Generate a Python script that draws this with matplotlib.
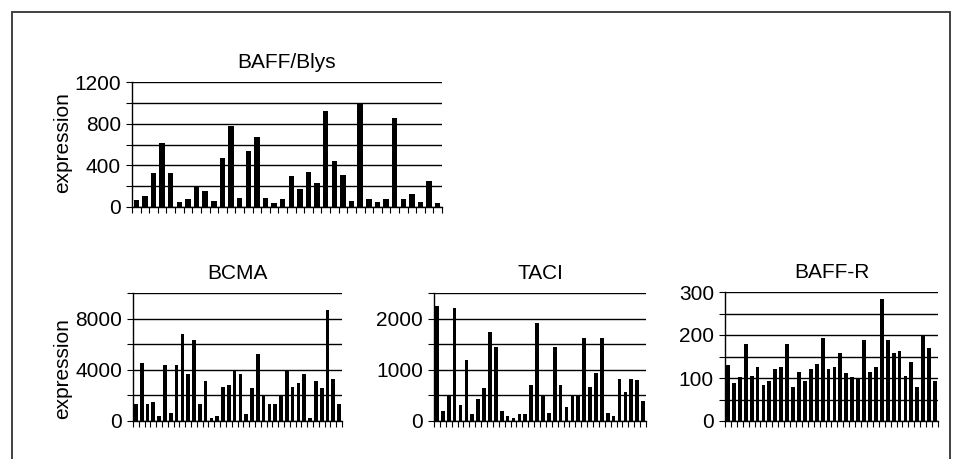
import matplotlib
matplotlib.use("Agg")
import matplotlib.pyplot as plt
from matplotlib.patches import Rectangle
import numpy as np

plt.rcParams['font.family'] = ['Liberation Sans', 'DejaVu Sans']

titles = ["BAFF/Blys", "BCMA", "TACI", "BAFF-R"]

baff_blys = [70, 110, 330, 610, 330, 50, 80, 190, 150, 60, 470, 780, 90, 540, 670, 90,
             40, 80, 300, 170, 340, 230, 920, 440, 310, 60, 1000, 80, 50, 80, 850, 80,
             120, 50, 250, 40]
bcma = [1300, 4500, 1300, 1450, 400, 4350, 650, 4350, 6800, 3700, 6300, 1300, 3100, 200,
        400, 2650, 2800, 3900, 3700, 550, 2550, 5250, 1950, 1300, 1300, 1950, 3900, 2650,
        2950, 3700, 200, 3100, 2550, 8700, 3300, 1300]
taci = [2250, 200, 480, 2200, 320, 1200, 130, 430, 640, 1730, 1440, 200, 100, 50, 130, 130,
        700, 1920, 480, 160, 1440, 700, 280, 480, 480, 1620, 660, 930, 1620, 160, 90, 830,
        560, 830, 800, 400]
baff_r = [130, 88, 102, 178, 105, 125, 83, 92, 120, 125, 178, 78, 115, 92, 120, 133, 193,
          120, 125, 157, 112, 102, 98, 188, 115, 125, 283, 188, 157, 162, 105, 138, 78,
          198, 170, 92]

series = [baff_blys, bcma, taci, baff_r]
y_max = [1200, 10000, 2500, 300]
y_step = [200, 2000, 500, 50]
label_every = [2, 2, 2, 2]
ylabel_text = "expression"

W, H = 962, 459
fig = plt.figure(figsize=(W / 100, H / 100), dpi=100)

# axes boxes in pixels: left, right, top, bottom
boxes = [(132, 442, 82, 207), (133, 342, 293, 421), (434, 646, 293, 421), (725, 938, 292, 421)]
bar_w = [0.63, 0.63, 0.63, 0.66]

axes = []
for (l, r, t, b) in boxes:
    ax = fig.add_axes([l / W, 1 - b / H, (r - l) / W, (b - t) / H])
    axes.append(ax)

for i, ax in enumerate(axes):
    vals = series[i]
    n = len(vals)
    x = np.arange(n)
    ax.bar(x, vals, width=bar_w[i], color='black', zorder=3)
    ax.set_xlim(-0.5, n - 0.5)
    ax.set_ylim(0, y_max[i])
    ticks = np.arange(0, y_max[i] + y_step[i] / 2, y_step[i])
    ax.set_yticks(ticks)
    ax.set_yticklabels([str(int(v)) if k % label_every[i] == 0 else '' for k, v in enumerate(ticks)])
    ax.set_xticks(np.arange(-0.5, n, 1.0))
    ax.set_xticklabels([])
    ax.tick_params(axis='x', direction='out', length=4, width=0.8, color='black')
    ax.tick_params(axis='y', direction='out', length=4, width=0.8, color='black',
                   labelsize=15, pad=4)
    ax.yaxis.grid(True, color='black', linewidth=1.0, zorder=1)
    ax.set_axisbelow(True)
    for s in ['top', 'right']:
        ax.spines[s].set_visible(False)
    for s in ['left', 'bottom']:
        ax.spines[s].set_color('black')
        ax.spines[s].set_linewidth(1.0)
    ax.set_title(titles[i], fontsize=15, pad=10)

# y labels
fig.text(63 / W, 1 - 143 / H, ylabel_text, rotation=90, ha='center', va='center', fontsize=15)
fig.text(63 / W, 1 - 369 / H, ylabel_text, rotation=90, ha='center', va='center', fontsize=15)

# outer frame
fig.patches.append(Rectangle((12 / W, -0.05), (950 - 12) / W, 1.05 - 12 / H,
                             transform=fig.transFigure, fill=False, edgecolor='#333333',
                             linewidth=1.3, clip_on=False))

fig.savefig("out.png", dpi=100, facecolor='white')
